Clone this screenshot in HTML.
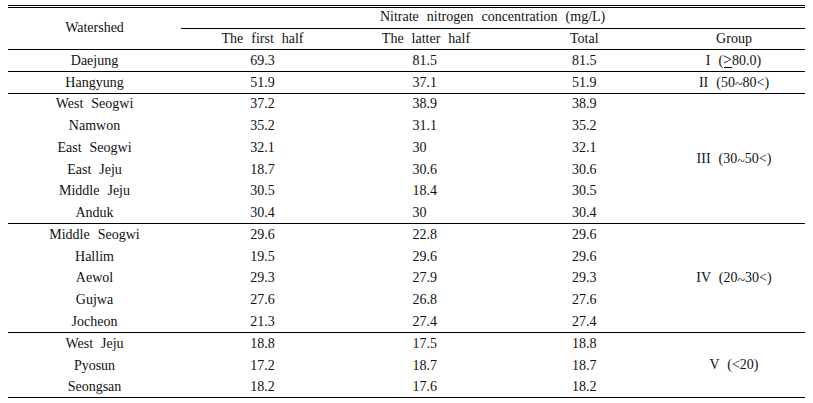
<!DOCTYPE html><html><head><meta charset="utf-8"><style>
html,body{margin:0;padding:0;background:#fff;}
body{width:813px;height:403px;position:relative;overflow:hidden;font-family:"Liberation Serif",serif;font-size:14px;color:#111;}
.l{position:absolute;height:1px;background:#000;}
.ge{position:relative;font-size:16px;}.ge::after{content:'';position:absolute;left:0.5px;right:0;bottom:0px;height:1px;background:#000;}.tl{position:relative;top:3px;}
.t{position:absolute;width:400px;text-align:center;line-height:0;height:0;white-space:nowrap;}
</style></head><body>
<div class="l" style="left:8px;top:5px;width:797px"></div>
<div class="l" style="left:8px;top:7px;width:797px"></div>
<div class="l" style="left:8px;top:49px;width:797px"></div>
<div class="l" style="left:8px;top:71px;width:797px"></div>
<div class="l" style="left:8px;top:93px;width:797px"></div>
<div class="l" style="left:8px;top:223px;width:797px"></div>
<div class="l" style="left:8px;top:332px;width:797px"></div>
<div class="l" style="left:8px;top:397px;width:797px"></div>
<div class="l" style="left:181px;top:28px;width:624px"></div>
<div class="t" style="left:-105.50px;top:28.07px;word-spacing:4.5px">Watershed</div>
<div class="t" style="left:292.60px;top:17.07px;word-spacing:4.5px">Nitrate nitrogen concentration (mg/L)</div>
<div class="t" style="left:62.50px;top:39.07px;word-spacing:4.5px">The first half</div>
<div class="t" style="left:226.00px;top:39.07px;word-spacing:4.5px">The latter half</div>
<div class="t" style="left:384.30px;top:39.07px;word-spacing:4.5px">Total</div>
<div class="t" style="left:534.00px;top:39.07px;word-spacing:4.5px">Group</div>
<div class="t" style="left:-105.50px;top:60.98px;word-spacing:4.5px">Daejung</div>
<div class="t" style="left:62.50px;top:60.98px;word-spacing:4.5px">69.3</div>
<div class="t" style="left:412.45px;top:60.98px;text-align:left;word-spacing:4.5px">81.5</div>
<div class="t" style="left:384.30px;top:60.98px;word-spacing:4.5px">81.5</div>
<div class="t" style="left:-105.50px;top:82.98px;word-spacing:4.5px">Hangyung</div>
<div class="t" style="left:62.50px;top:82.98px;word-spacing:4.5px">51.9</div>
<div class="t" style="left:412.45px;top:82.98px;text-align:left;word-spacing:4.5px">37.1</div>
<div class="t" style="left:384.30px;top:82.98px;word-spacing:4.5px">51.9</div>
<div class="t" style="left:-105.50px;top:103.58px;word-spacing:4.5px">West Seogwi</div>
<div class="t" style="left:62.50px;top:103.58px;word-spacing:4.5px">37.2</div>
<div class="t" style="left:412.45px;top:103.58px;text-align:left;word-spacing:4.5px">38.9</div>
<div class="t" style="left:384.30px;top:103.58px;word-spacing:4.5px">38.9</div>
<div class="t" style="left:-105.50px;top:126.22px;word-spacing:4.5px">Namwon</div>
<div class="t" style="left:62.50px;top:126.22px;word-spacing:4.5px">35.2</div>
<div class="t" style="left:412.45px;top:126.22px;text-align:left;word-spacing:4.5px">31.1</div>
<div class="t" style="left:384.30px;top:126.22px;word-spacing:4.5px">35.2</div>
<div class="t" style="left:-105.50px;top:147.85px;word-spacing:4.5px">East Seogwi</div>
<div class="t" style="left:62.50px;top:147.85px;word-spacing:4.5px">32.1</div>
<div class="t" style="left:412.45px;top:147.85px;text-align:left;word-spacing:4.5px">30</div>
<div class="t" style="left:384.30px;top:147.85px;word-spacing:4.5px">32.1</div>
<div class="t" style="left:-105.50px;top:169.50px;word-spacing:4.5px">East Jeju</div>
<div class="t" style="left:62.50px;top:169.50px;word-spacing:4.5px">18.7</div>
<div class="t" style="left:412.45px;top:169.50px;text-align:left;word-spacing:4.5px">30.6</div>
<div class="t" style="left:384.30px;top:169.50px;word-spacing:4.5px">30.6</div>
<div class="t" style="left:-105.50px;top:191.14px;word-spacing:4.5px">Middle Jeju</div>
<div class="t" style="left:62.50px;top:191.14px;word-spacing:4.5px">30.5</div>
<div class="t" style="left:412.45px;top:191.14px;text-align:left;word-spacing:4.5px">18.4</div>
<div class="t" style="left:384.30px;top:191.14px;word-spacing:4.5px">30.5</div>
<div class="t" style="left:-105.50px;top:212.78px;word-spacing:4.5px">Anduk</div>
<div class="t" style="left:62.50px;top:212.78px;word-spacing:4.5px">30.4</div>
<div class="t" style="left:412.45px;top:212.78px;text-align:left;word-spacing:4.5px">30</div>
<div class="t" style="left:384.30px;top:212.78px;word-spacing:4.5px">30.4</div>
<div class="t" style="left:-105.50px;top:234.97px;word-spacing:4.5px">Middle Seogwi</div>
<div class="t" style="left:62.50px;top:234.97px;word-spacing:4.5px">29.6</div>
<div class="t" style="left:412.45px;top:234.97px;text-align:left;word-spacing:4.5px">22.8</div>
<div class="t" style="left:384.30px;top:234.97px;word-spacing:4.5px">29.6</div>
<div class="t" style="left:-105.50px;top:256.67px;word-spacing:4.5px">Hallim</div>
<div class="t" style="left:62.50px;top:256.67px;word-spacing:4.5px">19.5</div>
<div class="t" style="left:412.45px;top:256.67px;text-align:left;word-spacing:4.5px">29.6</div>
<div class="t" style="left:384.30px;top:256.67px;word-spacing:4.5px">29.6</div>
<div class="t" style="left:-105.50px;top:278.37px;word-spacing:4.5px">Aewol</div>
<div class="t" style="left:62.50px;top:278.37px;word-spacing:4.5px">29.3</div>
<div class="t" style="left:412.45px;top:278.37px;text-align:left;word-spacing:4.5px">27.9</div>
<div class="t" style="left:384.30px;top:278.37px;word-spacing:4.5px">29.3</div>
<div class="t" style="left:-105.50px;top:300.07px;word-spacing:4.5px">Gujwa</div>
<div class="t" style="left:62.50px;top:300.07px;word-spacing:4.5px">27.6</div>
<div class="t" style="left:412.45px;top:300.07px;text-align:left;word-spacing:4.5px">26.8</div>
<div class="t" style="left:384.30px;top:300.07px;word-spacing:4.5px">27.6</div>
<div class="t" style="left:-105.50px;top:321.77px;word-spacing:4.5px">Jocheon</div>
<div class="t" style="left:62.50px;top:321.77px;word-spacing:4.5px">21.3</div>
<div class="t" style="left:412.45px;top:321.77px;text-align:left;word-spacing:4.5px">27.4</div>
<div class="t" style="left:384.30px;top:321.77px;word-spacing:4.5px">27.4</div>
<div class="t" style="left:-105.50px;top:344.27px;word-spacing:4.5px">West Jeju</div>
<div class="t" style="left:62.50px;top:344.27px;word-spacing:4.5px">18.8</div>
<div class="t" style="left:412.45px;top:344.27px;text-align:left;word-spacing:4.5px">17.5</div>
<div class="t" style="left:384.30px;top:344.27px;word-spacing:4.5px">18.8</div>
<div class="t" style="left:-105.50px;top:365.67px;word-spacing:4.5px">Pyosun</div>
<div class="t" style="left:62.50px;top:365.67px;word-spacing:4.5px">17.2</div>
<div class="t" style="left:412.45px;top:365.67px;text-align:left;word-spacing:4.5px">18.7</div>
<div class="t" style="left:384.30px;top:365.67px;word-spacing:4.5px">18.7</div>
<div class="t" style="left:-105.50px;top:387.07px;word-spacing:4.5px">Seongsan</div>
<div class="t" style="left:62.50px;top:387.07px;word-spacing:4.5px">18.2</div>
<div class="t" style="left:412.45px;top:387.07px;text-align:left;word-spacing:4.5px">17.6</div>
<div class="t" style="left:384.30px;top:387.07px;word-spacing:4.5px">18.2</div>
<div class="t" style="left:533.50px;top:60.27px;word-spacing:4.5px">I (<span class="ge">&gt;</span>80.0)</div>
<div class="t" style="left:534.00px;top:82.98px;word-spacing:4.5px">II (50<span class="tl" style="top:2px">~</span>80&lt;)</div>
<div class="t" style="left:534.00px;top:159.18px;word-spacing:4.5px">III (30<span class="tl">~</span>50&lt;)</div>
<div class="t" style="left:534.00px;top:278.38px;word-spacing:4.5px">IV (20<span class="tl">~</span>30&lt;)</div>
<div class="t" style="left:534.00px;top:364.67px;word-spacing:4.5px">V (&lt;20)</div>
</body></html>
